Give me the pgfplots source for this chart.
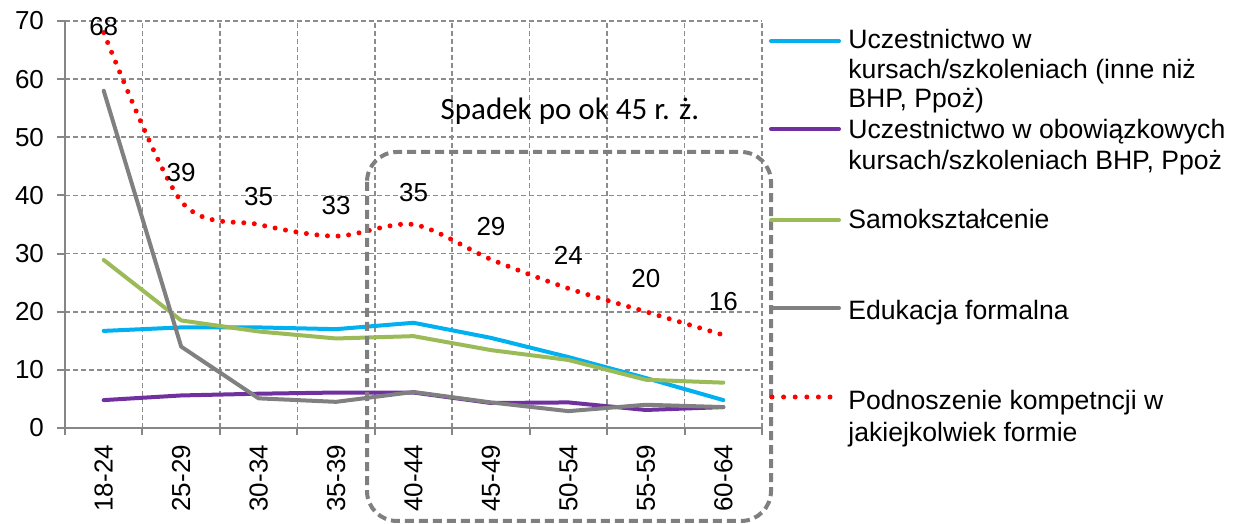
\documentclass[border=0pt]{standalone}
\usepackage{fontspec}
\setmainfont{Liberation Sans}
\newfontfamily\carlito{Carlito}
\usepackage{pgfplots}
\pgfplotsset{compat=1.18}
\usepackage{pgfplotstable}
\definecolor{axisgray}{HTML}{868686}
\definecolor{gridgray}{HTML}{8C8C8C}
\definecolor{sblue}{HTML}{00B0F0}
\definecolor{spurple}{HTML}{7030A0}
\definecolor{sgreen}{HTML}{9BBB59}
\definecolor{sgray}{HTML}{808080}
\definecolor{boxgray}{HTML}{7F7F7F}
\pgfplotstableread{
x y
0 16.7
1 17.3
2 17.3
3 17.0
4 18.1
5 15.5
6 12.2
7 8.6
8 4.8
}\kursy
\pgfplotstableread{
x y
0 4.8
1 5.6
2 5.9
3 6.1
4 6.1
5 4.3
6 4.4
7 3.1
8 3.6
}\bhp
\pgfplotstableread{
x y
0 28.9
1 18.5
2 16.6
3 15.4
4 15.8
5 13.4
6 11.7
7 8.3
8 7.8
}\samo
\pgfplotstableread{
x y
0 58.0
1 14.0
2 5.1
3 4.5
4 6.2
5 4.4
6 2.9
7 4.0
8 3.6
}\formalna
\pgfplotstableread{
x y dy
0 68 3
1 39 14.5
2 35 14
3 33 15.5
4 35 16
5 29 16.5
6 24 16.5
7 20 16.5
8 16 16.5
}\podnoszenie
\begin{document}
\begin{tikzpicture}
\begin{scope}[x=0.5bp,y=-0.5bp,shift={(-32.5bp,214bp)}]
\useasboundingbox (0,0) rectangle (1238,524);
\end{scope}
\begin{axis}[
  at={(0,0)}, anchor=south west,
  scale only axis, width=348.5bp, height=203.5bp,
  xmin=-0.5, xmax=8.5, ymin=0, ymax=70,
  axis x line*=bottom, axis y line*=left,
  axis line style={draw=axisgray, line width=1bp},
  xtick={0,...,8},
  xticklabels={18-24,25-29,30-34,35-39,40-44,45-49,50-54,55-59,60-64},
  minor xtick={-0.5,0.5,...,8.5},
  ytick={0,10,...,70},
  tick align=outside,
  major x tick style={draw=none},
  major tick length=4bp, minor tick length=3.5bp,
  every tick/.style={draw=axisgray, line width=1bp},
  minor x tick style={draw=axisgray, line width=1bp},
  ymajorgrids, xminorgrids,
  grid style={draw=gridgray, line width=0.8bp, dash pattern=on 2.5bp off 1.5bp},
  minor grid style={draw=gridgray, line width=0.8bp, dash pattern=on 2.5bp off 1.5bp},
  x tick label style={rotate=90, anchor=east, font=\fontsize{13bp}{15bp}\selectfont},
  y tick label style={font=\fontsize{13bp}{15bp}\selectfont},
  xticklabel shift=1bp, yticklabel shift=3bp,
  /pgf/number format/assume math mode=true,
  clip=false,
]
\addplot[sblue, line width=2bp, line join=round, line cap=round] table[x=x,y=y]{\kursy};
\addplot[spurple, line width=2bp, line join=round, line cap=round] table[x=x,y=y]{\bhp};
\addplot[sgreen, line width=2bp, line join=round, line cap=round] table[x=x,y=y]{\samo};
\addplot[sgray, line width=2bp, line join=round, line cap=round] table[x=x,y=y]{\formalna};
\addplot[red, line width=2.5bp, line cap=round, dash pattern=on 0bp off 5.3bp, smooth, tension=0.5,
  nodes near coords, point meta=y,
  visualization depends on={\thisrow{dy} \as \dy},
  every node near coord/.append style={anchor=center, yshift=\dy bp, text=black, font=\fontsize{13bp}{15bp}\selectfont}]
  table[x=x,y=y]{\podnoszenie};
\end{axis}
\begin{scope}[x=0.5bp,y=-0.5bp,shift={(-32.5bp,214bp)}]
\draw[boxgray, line width=2bp, dash pattern=on 4.5bp off 2.5bp, rounded corners=15bp] (367,152) rectangle (771,521);
\node[anchor=base, inner sep=0pt, font=\carlito\fontsize{15.5bp}{18bp}\selectfont] at (570,119.3) {Spadek po ok 45 r. ż.};
% legend
\draw[sblue, line width=2bp, line cap=round] (771,41) -- (839,41);
\draw[spurple, line width=2bp, line cap=round] (771,129) -- (839,129);
\draw[sgreen, line width=2bp, line cap=round] (771,220) -- (839,220);
\draw[sgray, line width=2bp, line cap=round] (771,308) -- (839,308);
\draw[red, line width=2.5bp, line cap=round, dash pattern=on 0bp off 5.8bp] (772,397) -- (836,397);
\begin{scope}[every node/.style={anchor=base west, inner sep=0pt, font=\fontsize{13.3bp}{16bp}\selectfont}]
\node at (848,48.3) {Uczestnictwo w};
\node at (848,78.3) {kursach/szkoleniach (inne niż};
\node at (848,107.3) {BHP, Ppoż)};
\node at (848,138.3) {Uczestnictwo w obowiązkowych};
\node at (848,170) {kursach/szkoleniach BHP, Ppoż};
\node at (848,228.5) {Samokształcenie};
\node at (848,320) {Edukacja formalna};
\node at (848,410) {Podnoszenie kompetncji w};
\node at (848,441.7) {jakiejkolwiek formie};
\end{scope}
\end{scope}
\end{tikzpicture}
\end{document}
